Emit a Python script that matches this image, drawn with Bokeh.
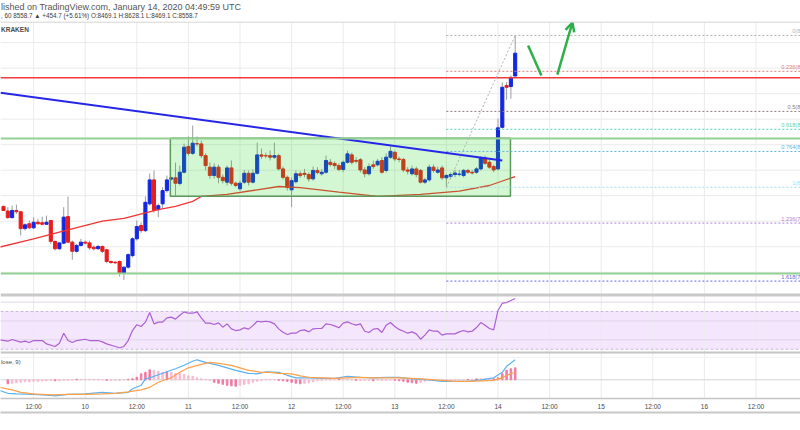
from bokeh.plotting import figure
from bokeh.models import Range1d, FixedTicker, Span, Arrow, OpenHead, LinearAxis
from bokeh.embed import file_html
from bokeh.resources import INLINE
from bokeh.core.properties import value

# ---------------- data (hours counted from 10 Jan 2020 00:00 UTC, hourly candles) ----------------
hours = list(range(-19, 101))
opens = [7958, 7940, 7914, 7942, 7937, 7871, 7890, 7874, 7896, 7894,
         7888, 7903, 7821, 7792, 7814, 7918, 7818, 7782, 7805, 7818,
         7815, 7798, 7792, 7801, 7788, 7742, 7739, 7742, 7696, 7720,
         7765, 7831, 7883, 7863, 7968, 8062, 7945, 7968, 8020, 8065,
         8070, 8048, 8092, 8193, 8166, 8204, 8203, 8157, 8112, 8079,
         8112, 8072, 8053, 8109, 8049, 8027, 8053, 8088, 8053, 8088,
         8160, 8157, 8157, 8151, 8157, 8105, 8072, 8023, 8055, 8086,
         8088, 8083, 8066, 8099, 8086, 8092, 8131, 8126, 8118, 8103,
         8131, 8160, 8138, 8141, 8101, 8086, 8121, 8121, 8138, 8099,
         8151, 8170, 8144, 8142, 8101, 8086, 8105, 8099, 8053, 8062,
         8112, 8092, 8109, 8070, 8076, 8083, 8083, 8079, 8099, 8092,
         8092, 8105, 8148, 8131, 8114, 8105, 8268, 8432, 8428, 8469.1]
closes = [7942, 7914, 7942, 7937, 7871, 7886, 7874, 7896, 7890, 7888,
          7896, 7821, 7792, 7815, 7916, 7818, 7782, 7805, 7818, 7814,
          7796, 7792, 7801, 7782, 7742, 7738, 7737, 7696, 7720, 7769,
          7831, 7879, 7863, 7974, 8062, 7942, 7961, 8020, 8062, 8070,
          8049, 8092, 8190, 8166, 8206, 8203, 8157, 8118, 8079, 8112,
          8072, 8059, 8109, 8049, 8040, 8049, 8088, 8053, 8088, 8160,
          8155, 8156, 8151, 8157, 8105, 8072, 8032, 8059, 8086, 8079,
          8083, 8066, 8099, 8091, 8092, 8138, 8122, 8118, 8103, 8131,
          8164, 8131, 8135, 8101, 8086, 8114, 8114, 8135, 8092, 8151,
          8174, 8144, 8142, 8101, 8096, 8105, 8083, 8053, 8062, 8112,
          8099, 8101, 8070, 8079, 8083, 8089, 8085, 8099, 8092, 8089,
          8105, 8148, 8127, 8112, 8101, 8266, 8425, 8425, 8464, 8558.7]
highs = [7961, 7955, 7961, 7965, 7940, 7892, 7903, 7916, 7909, 7918,
         7922, 7905, 7824, 7818, 7955, 7997, 7824, 7811, 7831, 7824,
         7824, 7805, 7807, 7805, 7792, 7746, 7743, 7746, 7722, 7774,
         7837, 7903, 7895, 7997, 8087, 8099, 7969, 8033, 8079, 8075,
         8130, 8118, 8204, 8232, 8275, 8232, 8216, 8166, 8130, 8127,
         8122, 8083, 8118, 8138, 8055, 8059, 8101, 8099, 8103, 8208,
         8185, 8169, 8177, 8208, 8164, 8114, 8079, 8072, 8099, 8096,
         8105, 8092, 8114, 8112, 8105, 8157, 8144, 8135, 8127, 8138,
         8177, 8169, 8151, 8148, 8112, 8127, 8138, 8144, 8151, 8166,
         8193, 8177, 8153, 8148, 8112, 8118, 8114, 8105, 8070, 8122,
         8122, 8114, 8118, 8086, 8091, 8101, 8101, 8105, 8105, 8101,
         8112, 8155, 8157, 8141, 8121, 8302, 8444, 8445, 8471, 8628.1]
lows = [7940, 7910, 7910, 7929, 7844, 7863, 7870, 7870, 7887, 7884,
        7886, 7811, 7785, 7788, 7809, 7814, 7749, 7777, 7801, 7809,
        7788, 7785, 7788, 7775, 7735, 7733, 7733, 7683, 7670, 7714,
        7758, 7824, 7855, 7857, 7961, 7934, 7916, 7950, 8012, 8059,
        8001, 8040, 8087, 8157, 8160, 8193, 8148, 8099, 8066, 8067,
        8049, 8048, 8040, 8040, 8033, 8020, 8046, 8040, 8048, 8083,
        8144, 8146, 8138, 8144, 8099, 8063, 8020, 7955, 8048, 8070,
        8072, 8055, 8059, 8083, 8079, 8086, 8114, 8105, 8096, 8092,
        8126, 8122, 8127, 8091, 8072, 8079, 8105, 8114, 8086, 8091,
        8144, 8135, 8131, 8092, 8083, 8079, 8072, 8048, 8046, 8055,
        8091, 8086, 8062, 8033, 8067, 8072, 8076, 8072, 8086, 8083,
        8086, 8099, 8121, 8105, 8092, 8099, 8263, 8376, 8380, 8469.1]

ma_hours = [-20, -12, -4, 4, 9, 17, 21, 25, 27, 33, 40, 45, 50, 59, 68, 78, 87, 94, 100]
ma_values = [7798, 7831, 7866, 7900, 7911, 7945, 7958, 7978, 7997, 8005, 8023, 8036, 8032,
             8014, 7997, 8005, 8018, 8040, 8075]

rsi_hours = [-20, -18, -17, -15, -14, -13, -12, -11, -10, -9, -7, -6, -5, -4, -3, -2, 0, 1, 3, 4,
             5, 7, 8, 9, 10, 11, 12, 13, 14, 15, 16, 17, 18, 19, 20, 21, 22, 23, 24, 25,
             26, 27, 28, 29, 30, 31, 32, 33, 34, 35, 36, 37, 38, 39, 40, 41, 42, 43, 44, 45,
             46, 47, 48, 49, 50, 51, 52, 53, 54, 55, 56, 57, 58, 59, 60, 61, 62, 63, 64, 65,
             66, 67, 68, 69, 70, 71, 72, 73, 74, 75, 76, 77, 78, 79, 80, 81, 82, 83, 84, 85,
             86, 87, 88, 89, 90, 91, 92, 93, 94, 95, 96, 97, 98, 99, 100]
rsi_values = [40.0, 38.5, 40.3, 37.5, 38.5, 37.1, 39.2, 39.2, 39.2, 35.7, 32.9, 36.4, 47.0, 39.2, 37.1, 39.2, 40.6, 39.2, 39.2, 37.8,
              35.7, 32.9, 31.5, 32.9, 39.2, 49.8, 56.0, 54.1, 58.7, 68.9, 56.9, 58.7, 58.7, 63.3, 64.0, 61.9, 66.1, 69.6, 68.2, 68.2,
              69.6, 63.3, 57.6, 57.6, 56.2, 58.0, 53.4, 56.9, 51.6, 49.8, 50.5, 52.7, 51.3, 55.0, 59.7, 59.0, 59.7, 59.0, 56.9, 51.6,
              48.0, 45.6, 47.0, 47.0, 49.8, 50.5, 48.4, 51.6, 52.0, 52.0, 56.9, 56.2, 54.8, 52.7, 57.6, 59.0, 57.0, 55.5, 56.9, 49.1,
              47.7, 51.3, 52.0, 47.7, 55.5, 58.3, 54.1, 51.0, 49.1, 47.0, 48.4, 46.3, 40.6, 45.0, 50.5, 49.1, 49.1, 44.9, 46.3, 46.3,
              46.3, 48.4, 49.8, 48.4, 49.1, 53.0, 58.3, 55.5, 52.0, 50.5, 71.1, 78.8, 79.5, 81.7, 83.8]

macd_hours = [-20, -18, -16, -12, -8, -7, -4, 0, 4, 7, 10, 11, 13, 14, 16, 18, 21, 23, 25, 26,
              28, 31, 33, 35, 38, 40, 42, 45, 47, 49, 52, 55, 58, 61, 64, 67, 70, 73, 76, 80,
              83, 86, 89, 92, 95, 97, 98, 100]
macd_values = [-21, -27, -28, -29, -31, -32, -29, -28, -25, -27, -25, -18, -11, 2, 7, 13, 22, 29, 37, 40,
               35, 29, 24, 19, 13, 12, 16, 15, 9, 4, 4, 3, 3, 7, 5, 4, 5, 5, 2, 0,
               -3, -3, -3, 0, 4, 15, 27, 40]
signal_hours = [-20, -17, -15, -12, -8, -4, 0, 4, 7, 10, 13, 15, 17, 20, 22, 24, 27, 29, 31, 34,
                36, 38, 41, 43, 45, 48, 50, 52, 55, 58, 61, 64, 67, 70, 73, 76, 80, 83, 86, 89,
                92, 95, 97, 98, 100]
signal_values = [-15, -20, -25, -28, -30, -29, -29, -28, -27, -24, -20, -15, -5, 4, 15, 24, 31, 35, 33, 29,
                 24, 19, 15, 15, 13, 12, 8, 5, 4, 3, 4, 5, 4, 4, 4, 3, 1, -1, -3, -3,
                 -2, -1, 4, 9, 15]
hist_hours = list(range(-18, 101))
hist_values = [-8, -7, -6, -5, -4, -4, -3, -3, -2, -2,
               -1, -2, -2, -1, -1, 0, 1, 1, 1, 1,
               1, 1, 0, -1, -1, -1, -1, 0, 1, 2,
               5, 12, 15, 20, 19, 17, 15, 16, 15, 13,
               12, 11, 8, 7, 4, 2, 1, -1, -5, -7,
               -9, -11, -12, -13, -11, -9, -8, -5, -3, -1,
               1, 1, 0, -1, -2, -3, -5, -7, -8, -7,
               -6, -4, -2, -1, 0, 0, 0, 1, 1, 1,
               0, -1, -1, -1, -1, -2, -1, -1, -1, 0,
               -1, -2, -3, -5, -6, -7, -5, -3, -2, -1,
               -1, -1, -1, 0, 0, 0, 0, 1, 1, 2,
               2, 2, 1, 2, 4, 12, 19, 22, 24]

tick_hours = [-12, 0, 12, 24, 36, 48, 60, 72, 84, 96, 108, 120, 132, 144, 156]
tick_labels = ["12:00", "10", "12:00", "11", "12:00", "12", "12:00", "13", "12:00", "14",
               "12:00", "15", "12:00", "16", "12:00"]
price_grid = [7700, 7800, 7900, 8000, 8100, 8200, 8300, 8400, 8500, 8600]
rsi_grid = [40, 60, 80]
rsi_band = [30, 70]

green_levels = [8224, 7695]
red_level = 8462
box_hours = [19.8, 98.9]
box_prices = [7998, 8225]
trend_hours = [-19.7, 97.0]
trend_prices = [8404, 8138]
fib_hours = [84, 100]
fib_prices = [8033.0, 8628.1]
fib_ratios = [0, 0.236, 0.5, 0.618, 0.764, 1, 1.236, 1.618]
fib_label_texts = ["0(8", "0.236(8", "0.5(8", "0.618(8", "0.764(8", "1(8", "1.236(7", "1.618(7"]
arrow_down_hours = [103.0, 106.1]
arrow_down_prices = [8589, 8471]
arrow_up_hours = [109.8, 113.3]
arrow_up_prices = [8475, 8679]

header_line1 = "lished on TradingView.com, January 14, 2020 04:49:59 UTC"
header_line2 = ", 60 8558.7 \u25b2 +454.7 (+5.61%) O:8469.1 H:8628.1 L:8469.1 C:8558.7"

# ---------------- layout constants ----------------
X0, X1 = -19.70, 166.35
W, FRAME_H, BOTTOM = 800, 398, 30
PY0, PY1 = 7205.0, 8765.2
PPX = (PY1 - PY0) / FRAME_H          # price units per pixel
TOP_P = PY1 - 21.7 * PPX
FONT = value("Liberation Sans")

UP, DOWN, WICK = "#1228e0", "#e81c1c", "#9b9b9b"
GRID = "#ebebeb"

p = figure(width=W, height=FRAME_H + BOTTOM, x_range=Range1d(X0, X1), y_range=Range1d(PY0, PY1),
           output_backend="svg", toolbar_location=None, y_axis_location=None,
           min_border_left=0, min_border_right=0, min_border_top=0, min_border_bottom=BOTTOM)
p.extra_y_ranges = {"rsi": Range1d(-22.3, 400.0), "macd": Range1d(-37.4, 758.6)}
p.grid.visible = False
p.outline_line_color = None

# RSI band fill
p.quad(left=[X0], right=[X1], bottom=[rsi_band[0]], top=[rsi_band[1]], y_range_name="rsi",
       fill_color="#f3e6fd", line_color=None)

# grids
n = len(tick_hours)
p.segment(x0=tick_hours, y0=[PY0] * n, x1=tick_hours, y1=[TOP_P] * n, line_color=GRID, line_width=1)
m = len(price_grid)
p.segment(x0=[X0] * m, y0=price_grid, x1=[X1] * m, y1=price_grid, line_color=GRID, line_width=1)
k = len(rsi_grid)
p.segment(x0=[X0] * k, y0=rsi_grid, x1=[X1] * k, y1=rsi_grid, y_range_name="rsi",
          line_color="#e0d6e8", line_width=1)
p.segment(x0=[X0] * 2, y0=rsi_band, x1=[X1] * 2, y1=rsi_band, y_range_name="rsi",
          line_color="#cbb8dc", line_width=1, line_dash="3 2")
p.segment(x0=[X0, X0], y0=[0, 45], x1=[X1, X1], y1=[0, 45], y_range_name="macd",
          line_color=["#d4d4d4", "#efefef"], line_width=1)

# candles
colors = [UP if c >= o else DOWN for o, c in zip(opens, closes)]
tops = [max(o, c) for o, c in zip(opens, closes)]
bots = [min(o, c) for o, c in zip(opens, closes)]
p.segment(x0=hours, y0=lows, x1=hours, y1=highs, line_color=WICK, line_width=1)
p.vbar(x=hours, width=0.72, top=tops, bottom=bots, fill_color=colors, line_color=colors, line_width=1)

# moving average
p.line(ma_hours, ma_values, line_color="#f23434", line_width=1.3)

# consolidation box
p.quad(left=[box_hours[0]], right=[box_hours[1]], bottom=[box_prices[0]], top=[box_prices[1]],
       fill_color="#1ed71e", fill_alpha=0.2, line_color="#5d985d", line_width=1.5)

# trend line
p.line(trend_hours, trend_prices, line_color="#2626e8", line_width=2)

# horizontal levels
p.segment(x0=[X0] * 2, y0=green_levels, x1=[X1] * 2, y1=green_levels, line_color="#93cf93", line_width=2)
p.segment(x0=[X0], y0=[red_level], x1=[X1], y1=[red_level], line_color="#ef3b3b", line_width=1.5)

# fibonacci retracement
fib_colors = ["#b4b4b4", "#e57c7c", "#8f7b7b", "#4fd2b2", "#5fb4e4", "#a6dcf2", "#b07fd2", "#5a6ad8"]
hi, lo = fib_prices[1], fib_prices[0]
fib_levels = [hi - r * (hi - lo) for r in fib_ratios]
nf = len(fib_levels)
p.segment(x0=[fib_hours[0]] * nf, y0=fib_levels, x1=[X1] * nf, y1=fib_levels,
          line_color=fib_colors, line_width=1, line_dash="2 2")
p.line(fib_hours, fib_prices, line_color="#b0b0b0", line_width=1, line_dash="2 2")
p.text(x=[X1 - 0.05] * nf, y=[lv + 1.2 * PPX for lv in fib_levels], text=fib_label_texts,
       text_align="right", text_baseline="bottom", text_font=FONT, text_font_size="5.6px",
       text_color=fib_colors)

# green arrows
GREEN = "#2fae4a"
p.line(arrow_down_hours, arrow_down_prices, line_color=GREEN, line_width=2.5)
p.add_layout(Arrow(end=OpenHead(size=9, line_color=GREEN, line_width=2.5),
                   x_start=arrow_up_hours[0], y_start=arrow_up_prices[0],
                   x_end=arrow_up_hours[1], y_end=arrow_up_prices[1],
                   line_color=GREEN, line_width=2.5))

# RSI
p.line(rsi_hours, rsi_values, y_range_name="rsi", line_color="#ad5fd4", line_width=1.2)

# MACD
hist_colors = []
prev = 0
for v in hist_values:
    hist_colors.append("#f27aa3" if abs(v) > abs(prev) else "#f8bbd0")
    prev = v
p.vbar(x=hist_hours, width=0.35, top=hist_values, bottom=0, y_range_name="macd",
       fill_color=hist_colors, line_color=hist_colors)
p.line(macd_hours, macd_values, y_range_name="macd", line_color="#5cb2f2", line_width=1.2)
p.line(signal_hours, signal_values, y_range_name="macd", line_color="#ffa04a", line_width=1.2)

# pane separators and top border
p.add_layout(Span(location=PY1 - 294.5 * PPX, dimension="width", line_color="#c9c9c9", line_width=3))
p.add_layout(Span(location=PY1 - 352.0 * PPX, dimension="width", line_color="#c4c4c4", line_width=2))
p.add_layout(Span(location=TOP_P, dimension="width", line_color="#d4d4d4", line_width=1))

# header texts
p.text(x=[X0 + 0.12], y=[PY1 - 6.0 * PPX], text=[header_line1], text_font=FONT,
       text_font_size="9px", text_color="#555555", text_baseline="middle", text_align="left")
p.text(x=[X0 + 0.12], y=[PY1 - 14.6 * PPX], text=[header_line2], text_font=FONT,
       text_font_size="6.3px", text_color="#3c3c3c", text_baseline="middle", text_align="left")
p.text(x=[X0 + 0.12], y=[PY1 - 29.3 * PPX], text=["KRAKEN"], text_font=FONT,
       text_font_size="6.5px", text_font_style="bold", text_color="#4a4a4a", text_baseline="middle")
p.text(x=[X0 + 0.12], y=[36.6], y_range_name="macd", text=["lose, 9)"], text_font=FONT,
       text_font_size="6px", text_color="#4a4a4a", text_baseline="middle")

# time axis
ax = p.xaxis[0]
ax.ticker = FixedTicker(ticks=tick_hours)
ax.major_label_overrides = dict(zip(tick_hours, tick_labels))
ax.major_tick_line_color = None
ax.minor_tick_line_color = None
ax.major_tick_in = 0
ax.major_tick_out = 0
ax.axis_line_color = "#c4c4c4"
ax.axis_line_width = 1.5
ax.major_label_text_font = "Liberation Sans"
ax.major_label_text_font_size = "6.5px"
ax.major_label_text_color = "#4a4a4a"
ax.major_label_standoff = 4

# bottom border of the chart (an empty axis drawn below the time axis)
edge = LinearAxis(ticker=FixedTicker(ticks=[]), axis_line_color="#c8c8c8", axis_line_width=2,
                  major_tick_line_color=None, minor_tick_line_color=None,
                  major_label_text_font_size="0px")
p.add_layout(edge, "below")

html = file_html(p, INLINE, title="BTCUSD 60")
open("out.html", "w").write(html)
